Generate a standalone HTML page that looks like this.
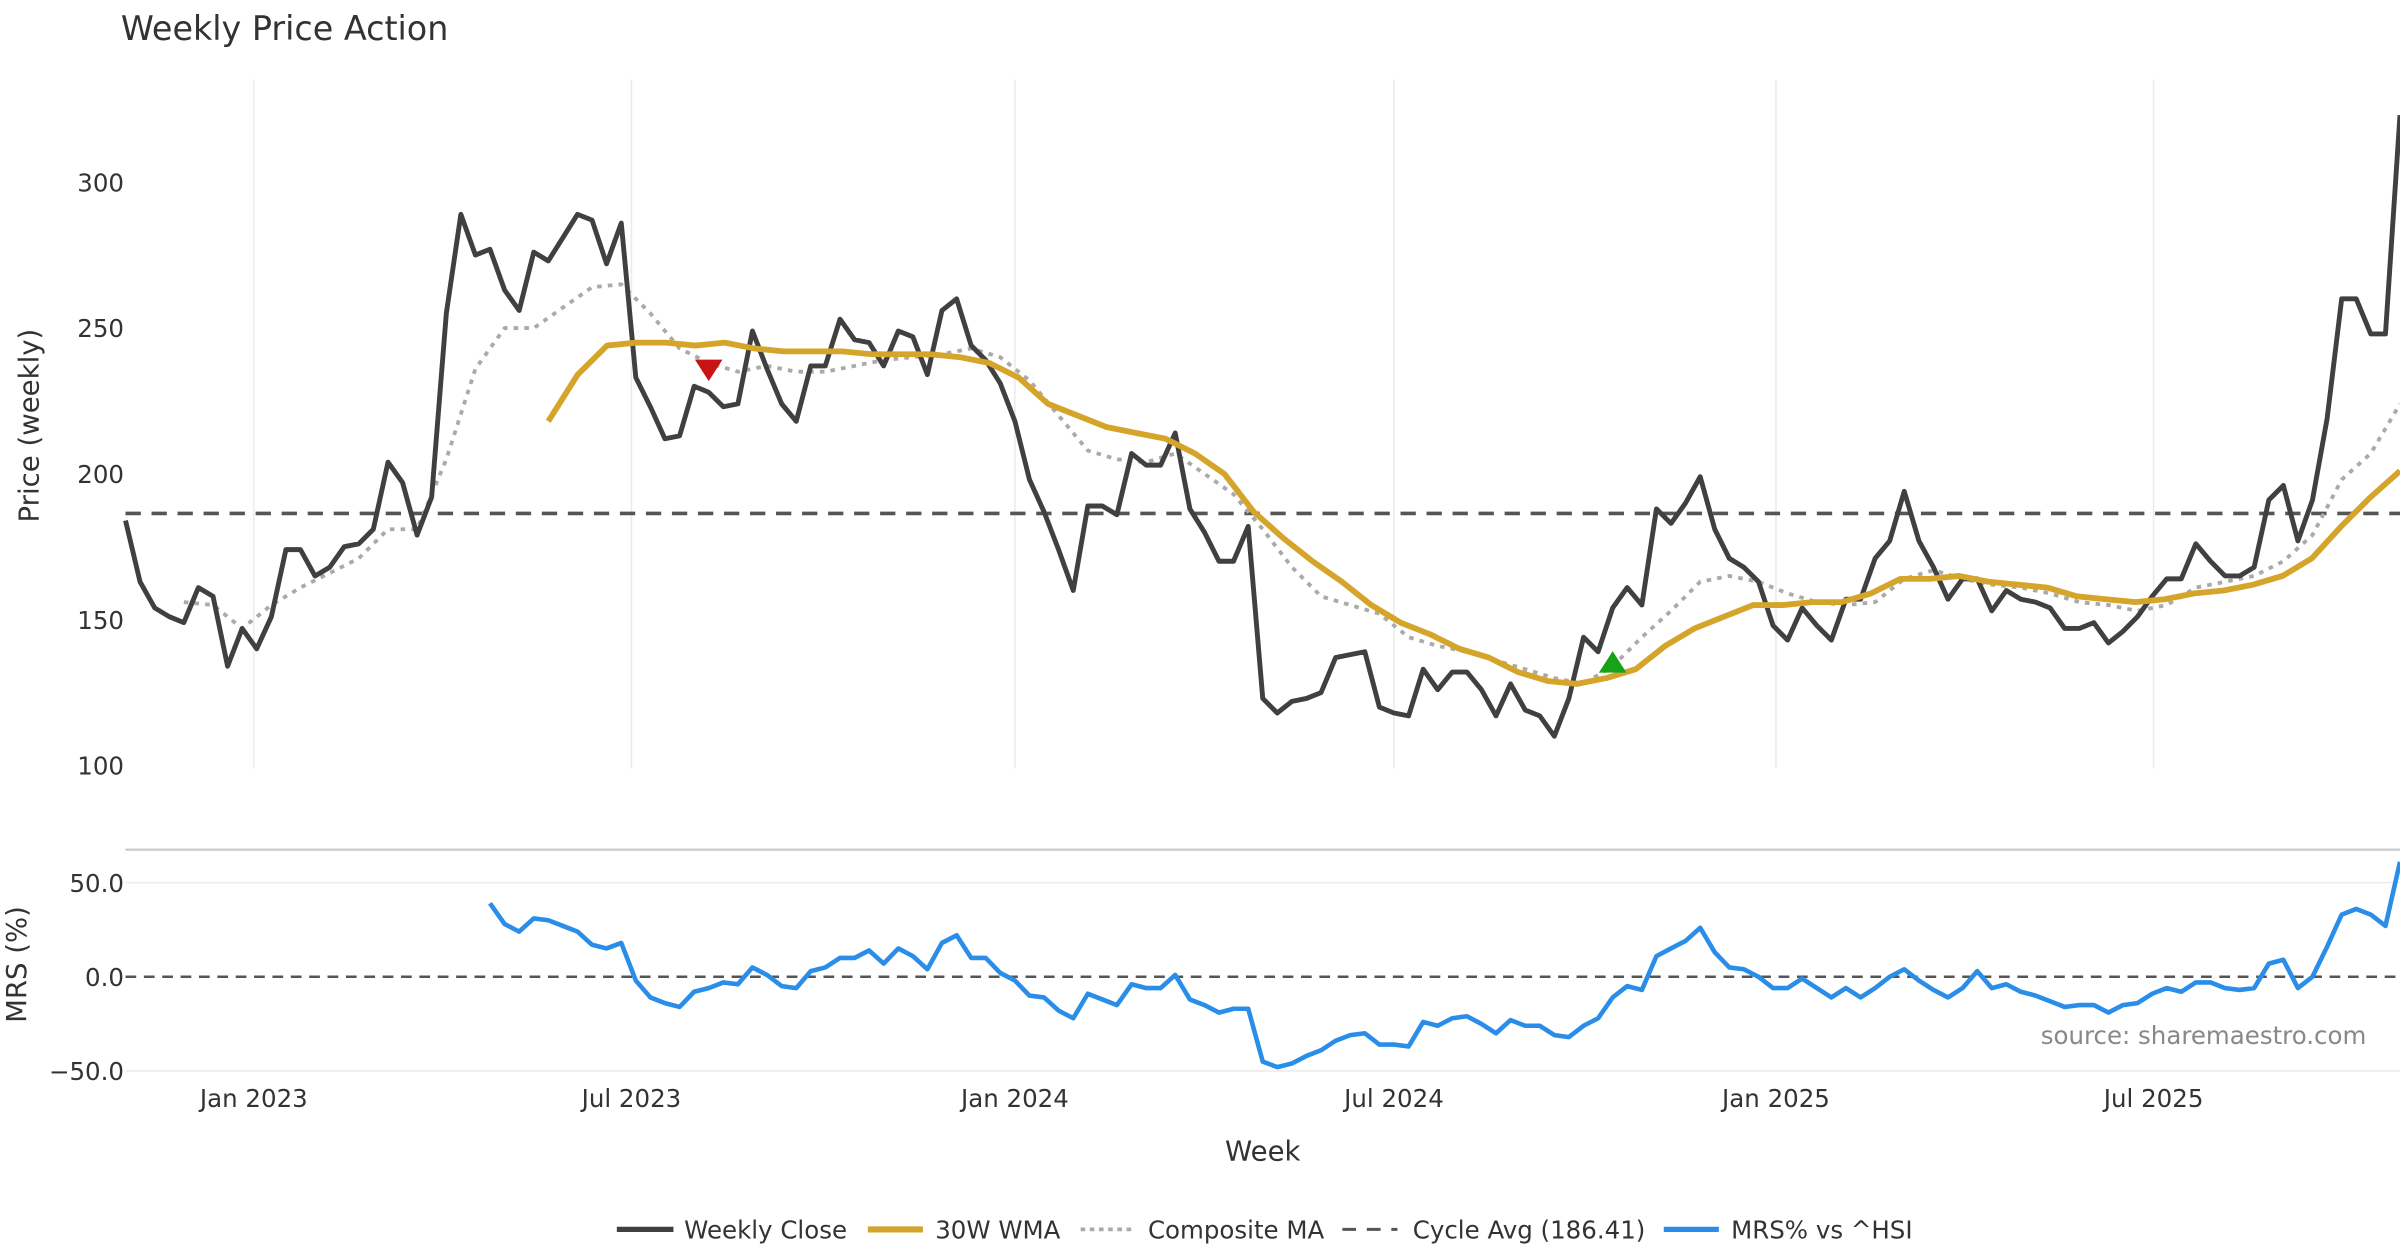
<!DOCTYPE html>
<html><head><meta charset="utf-8"><style>
html,body{margin:0;padding:0;background:#fff;}
svg{display:block;font-family:"DejaVu Sans","Liberation Sans",sans-serif;}
</style></head><body>
<svg id="chart" width="2400" height="1260" viewBox="0 0 1568 823" preserveAspectRatio="none" xmlns="http://www.w3.org/2000/svg">
<rect x="0" y="0" width="1568" height="823" fill="#fff"/>
<text x="79" y="26" font-size="21.8" fill="#333">Weekly Price Action</text>
<g id="grid"></g>
<g id="series"></g>
<g id="labels"></g>
<text transform="translate(25,278) rotate(-90)" text-anchor="middle" font-size="18" fill="#333">Price (weekly)</text>
<text transform="translate(17,630) rotate(-90)" text-anchor="middle" font-size="18" fill="#333">MRS (%)</text>
<text x="825" y="758" text-anchor="middle" font-size="18" fill="#333">Week</text>
<text x="1546" y="682" text-anchor="end" font-size="16" fill="#888">source: sharemaestro.com</text>
<g font-size="16" fill="#333">
<g><line x1="403" y1="803" x2="440" y2="803" stroke="#404040" stroke-width="3.5"/><text x="447" y="809">Weekly Close</text></g>
<g><line x1="567" y1="803" x2="603" y2="803" stroke="#d4a52a" stroke-width="4"/><text x="611" y="809">30W WMA</text></g>
<g><line x1="706" y1="803" x2="742" y2="803" stroke="#aaa" stroke-width="2.5" stroke-dasharray="3,3"/><text x="750" y="809">Composite MA</text></g>
<g><line x1="877" y1="803" x2="913" y2="803" stroke="#555" stroke-width="2" stroke-dasharray="9,7"/><text x="923" y="809">Cycle Avg (186.41)</text></g>
<g><line x1="1087" y1="803" x2="1123" y2="803" stroke="#2a8ee8" stroke-width="3.5"/><text x="1131" y="809">MRS% vs ^HSI</text></g>
</g>
</svg>
<script>
const closeValues=[184,163,154,151,149,161,158,134,147,140,151,174,174,165,168,175,176,181,204,197,179,192,255,289,275,277,263,256,276,273,281,289,287,272,286,233,223,212,213,230,228,223,224,249,236,224,218,237,237,253,246,245,237,249,247,234,256,260,244,239,231,218,198,187,174,160,189,189,186,207,203,203,214,188,180,170,170,182,123,118,122,123,125,137,138,139,120,118,117,133,126,132,132,126,117,128,119,117,110,123,144,139,154,161,155,188,183,190,199,181,171,168,163,148,143,154,148,143,157,157,171,177,194,177,168,157,164,164,153,160,157,156,154,147,147,149,142,146,151,158,164,164,176,170,165,165,168,191,196,177,191,219,260,260,248,248,323];
const wmaStart=29;
const wmaEnd=156;
const wmaValues=[218,234,244,245,245,244,245,243,242,242,242,241,241,241,240,238,233,224,220,216,214,212,207,200,187,178,170,163,155,149,145,140,137,132,129,128,130,133,141,147,151,155,155,156,156,159,164,164,165,163,162,161,158,157,156,157,159,160,162,165,171,182,192,201];
const compStart=4;
const compValues=[156,155,147,155,161,166,171,181,181,205,236,250,250,257,264,265,255,243,238,235,237,235,235,237,239,240,241,243,240,232,220,208,205,204,207,200,193,181,168,158,155,152,144,141,139,136,133,130,128,134,144,153,163,165,163,159,156,155,156,164,167,164,162,161,159,156,155,153,155,161,163,165,170,179,198,207,224];
const mrsStart=25;
const mrsValues=[39,28,24,31,30,27,24,17,15,18,-2,-11,-14,-16,-8,-6,-3,-4,5,1,-5,-6,3,5,10,10,14,7,15,11,4,18,22,10,10,2,-2,-10,-11,-18,-22,-9,-12,-15,-4,-6,-6,1,-12,-15,-19,-17,-17,-45,-48,-46,-42,-39,-34,-31,-30,-36,-36,-37,-24,-26,-22,-21,-25,-30,-23,-26,-26,-31,-32,-26,-22,-11,-5,-7,11,15,19,26,13,5,4,0,-6,-6,-1,-6,-11,-6,-11,-6,0,4,-2,-7,-11,-6,3,-6,-4,-8,-10,-13,-16,-15,-15,-19,-15,-14,-9,-6,-8,-3,-3,-6,-7,-6,7,9,-6,0,16,33,36,33,27,61];
const cycleAvg=186.41;
const priceTicks=[100,150,200,250,300];
const mrsTicks=[-50,0,50];
const mrsTickLabels=["\u221250.0","0.0","50.0"];
const dateTickIdx=[8.8,34.7,61,87,113.2,139.1];
const dateTickLabels=["Jan 2023","Jul 2023","Jan 2024","Jul 2024","Jan 2025","Jul 2025"];
const sellSignal={idx:40,value:236};
const buySignal={idx:102,value:135};

const NS="http://www.w3.org/2000/svg";
const X0=82,X1=1568,N=closeValues.length;
const x=i=>X0+(X1-X0)*i/(N-1);
const yP=v=>500-(v-100)*(381/200);
const yM=v=>638-v*(61.5/50);
function mk(tag,attrs,parent){const e=document.createElementNS(NS,tag);for(const k in attrs)e.setAttribute(k,attrs[k]);parent.appendChild(e);return e;}
const grid=document.getElementById('grid'),ser=document.getElementById('series'),lab=document.getElementById('labels');

dateTickIdx.forEach((d,k)=>{
  const g=mk('line',{x1:x(d),x2:x(d),y1:52,y2:502,stroke:'#ebebeb','stroke-width':1},grid);
  
  
  const t=mk('text',{x:x(d),y:723,'text-anchor':'middle','font-size':16,fill:'#333'},lab);
  t.textContent=dateTickLabels[k];
  
  
});
priceTicks.forEach(v=>{
  const t=mk('text',{x:81,y:yP(v)+6,'text-anchor':'end','font-size':16,fill:'#333'},lab);
  t.textContent=v;
  
  
});
const sep=mk('line',{x1:82,x2:1568,y1:555,y2:555,stroke:'#ccc','stroke-width':1.5},grid);


mrsTicks.forEach((v,k)=>{
  if(v!==0){const g=mk('line',{x1:82,x2:1568,y1:yM(v),y2:yM(v),stroke:'#ececec','stroke-width':1},grid);
  
  }
  const t=mk('text',{x:81,y:yM(v)+6,'text-anchor':'end','font-size':16,fill:'#333'},lab);
  t.textContent=mrsTickLabels[k];
  
  
});
function poly(vals,start,step,yf,attrs,name){
  const pts=vals.map((v,k)=>x(start+k*step).toFixed(1)+','+yf(v).toFixed(1)).join(' ');
  const p=mk('polyline',Object.assign({points:pts,fill:'none','stroke-linejoin':'round'},attrs),ser);
  
  
}
const cy=mk('line',{x1:82,x2:1568,y1:yP(cycleAvg),y2:yP(cycleAvg),stroke:'#555','stroke-width':2.4,'stroke-dasharray':'10,7'},ser);


const z=mk('line',{x1:82,x2:1568,y1:yM(0),y2:yM(0),stroke:'#555','stroke-width':1.6,'stroke-dasharray':'7,5'},ser);


poly(compValues,compStart,2,yP,{stroke:'#aaa','stroke-width':2.5,'stroke-dasharray':'3,4'},'composite-ma-line');
poly(closeValues,0,1,yP,{stroke:'#404040','stroke-width':3.2},'weekly-close-line');
poly(wmaValues,wmaStart,(wmaEnd-wmaStart)/(wmaValues.length-1),yP,{stroke:'#d4a52a','stroke-width':3.8},'wma-line');
poly(mrsValues,mrsStart,1,yM,{stroke:'#2a8ee8','stroke-width':3},'mrs-line');
const sx=x(sellSignal.idx),sy=yP(sellSignal.value);
const s=mk('polygon',{points:`${sx-9},${sy-6} ${sx+9},${sy-6} ${sx},${sy+8}`,fill:'#c81414'},ser);


const bx=x(buySignal.idx),by=yP(buySignal.value);
const b=mk('polygon',{points:`${bx-9},${by+6} ${bx+9},${by+6} ${bx},${by-8}`,fill:'#17a317'},ser);


</script>
</body></html>
